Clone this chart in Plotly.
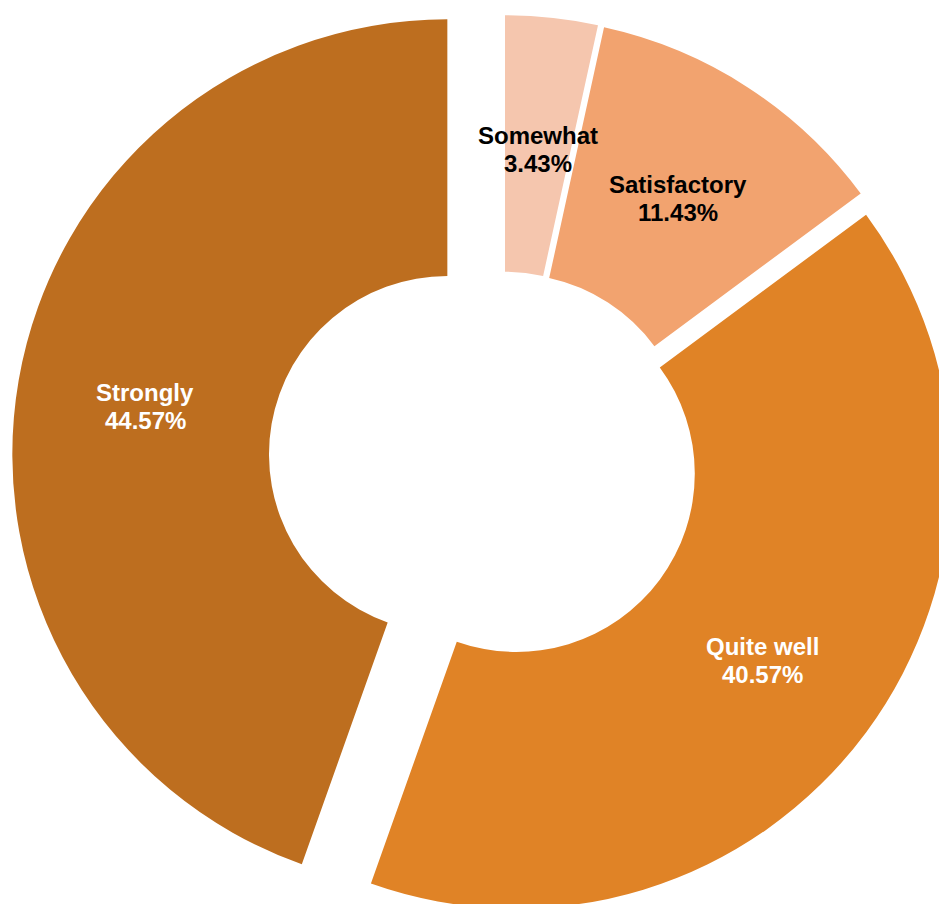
import math
import plotly.graph_objects as go

# ---- data ----
labels = ["Somewhat", "Satisfactory", "Quite well", "Strongly"]
counts = [6, 20, 71, 78]
colors = ["#F5C6AE", "#F2A36F", "#E08326", "#BD6E1F"]
text_colors = ["#000000", "#000000", "#FFFFFF", "#FFFFFF"]
pulls = [0.032, 0.032, 0.037, 0.131]

# ---- layout geometry ----
W, H = 1007, 984
HOLE = 0.41
FONT_FAMILY = "Liberation Sans, Arial, sans-serif"
FONT_SIZE = 24
LINE_GAP = 28      # px between the two label lines
TEXT_DROP = 4      # px visual centring of the label block

fig = go.Figure(
    go.Pie(
        labels=labels,
        values=counts,
        sort=False,
        direction="clockwise",
        rotation=0,
        hole=HOLE,
        pull=pulls,
        marker=dict(colors=colors, line=dict(width=0)),
        textinfo="none",
        hoverinfo="label+percent",
    )
)

# labels placed at the middle of each (pulled) ring segment, derived from the data
total = sum(counts)
R = min(W, H) / 2 / (1 + max(pulls))
cx, cy = W / 2, H / 2
label_r = (1 + HOLE) / 2
annotations = []
cum = 0
for lab, v, p, tc in zip(labels, counts, pulls, text_colors):
    mid = 2 * math.pi * (cum + v / 2) / total
    cum += v
    sx, sy = math.sin(mid), -math.cos(mid)
    px = cx + (p + label_r) * R * sx
    py = cy + (p + label_r) * R * sy
    lines = [lab, f"{100 * v / total:.2f}%"]
    shifts = [LINE_GAP / 2 - TEXT_DROP, -LINE_GAP / 2 - TEXT_DROP]
    for line, ys in zip(lines, shifts):
        annotations.append(
            dict(
                x=px / W,
                y=1 - py / H,
                xref="paper",
                yref="paper",
                yshift=ys,
                text=f"<b>{line}</b>",
                showarrow=False,
                xanchor="center",
                yanchor="middle",
                font=dict(family=FONT_FAMILY, size=FONT_SIZE, color=tc),
            )
        )

fig.update_layout(
    width=W,
    height=H,
    margin=dict(l=0, r=0, t=0, b=0),
    showlegend=False,
    paper_bgcolor="white",
    plot_bgcolor="white",
    annotations=annotations,
)

post = (
    "var gd=document.getElementById('{plot_id}');"
    "document.body.style.margin='0';"
    "document.body.style.overflow='hidden';"
    "gd.style.position='relative';"
    "gd.style.top='-28px';"
)
fig.write_html("out.html", post_script=post)
